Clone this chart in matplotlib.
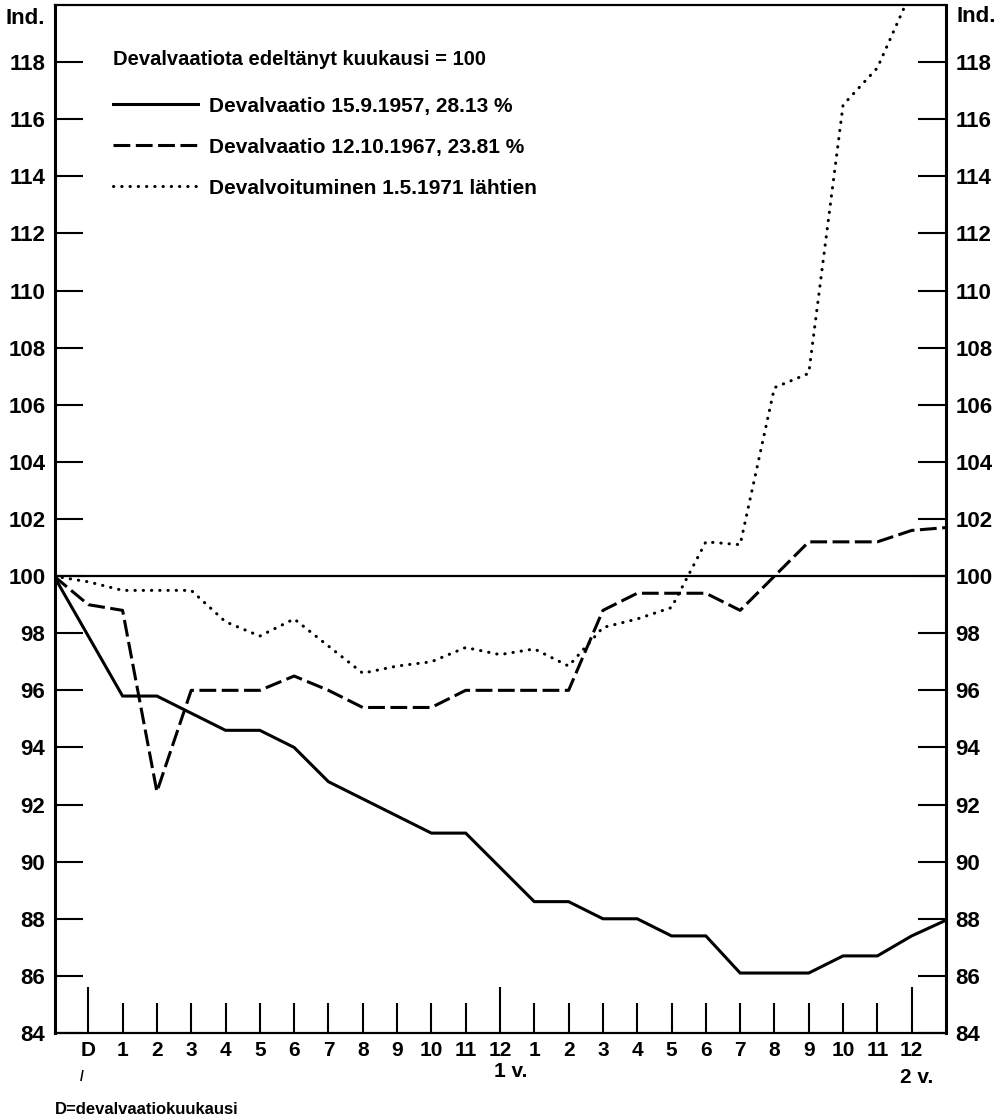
import numpy as np
import matplotlib
matplotlib.use("Agg")
import matplotlib.pyplot as plt

plt.rcParams['font.family'] = ['Liberation Sans', 'DejaVu Sans']
plt.rcParams['font.weight'] = 'bold'

# months: -1 = month before devaluation (=100), 0 = D, 1..12, 13..24 (second year)
months = np.arange(-1, 26)
dev_1957 = [100, 97.9, 95.8, 95.8, 95.2, 94.6, 94.6, 94.0, 92.8, 92.2, 91.6, 91.0,
            91.0, 89.8, 88.6, 88.6, 88.0, 88.0, 87.4, 87.4, 86.1, 86.1, 86.1, 86.7,
            86.7, 87.4, 87.95]
dev_1967 = [100, 99.0, 98.8, 92.45, 96.0, 96.0, 96.0, 96.5, 96.0, 95.4, 95.4, 95.4,
            96.0, 96.0, 96.0, 96.0, 98.8, 99.4, 99.4, 99.4, 98.8, 100.0, 101.2, 101.2,
            101.2, 101.6, 101.7]
dev_1971 = [100, 99.8, 99.5, 99.5, 99.5, 98.4, 97.9, 98.5, 97.55, 96.6, 96.85, 97.0,
            97.5, 97.25, 97.45, 96.85, 98.2, 98.5, 98.9, 101.2, 101.1, 106.6, 107.1,
            116.5, 117.8, 120.5]

labels = ["Devalvaatio 15.9.1957, 28.13 %",
          "Devalvaatio 12.10.1967, 23.81 %",
          "Devalvoituminen 1.5.1971 lähtien"]
legend_title = "Devalvaatiota edeltänyt kuukausi = 100"

month_ticks = np.arange(0, 25)
month_labels = ["D"] + [str(i) for i in range(1, 13)] + [str(i) for i in range(1, 13)]
y_ticks = np.arange(84, 119, 2)

W, H = 1004, 1119
fig = plt.figure(figsize=(W / 100, H / 100), dpi=100)
ax = fig.add_axes([55 / W, 86 / H, 891 / W, 1028 / H])

lw = 2.2
ax.plot(months, dev_1957, color='black', lw=lw, solid_joinstyle='miter', label=labels[0])
ax.plot(months, dev_1967, color='black', lw=lw, linestyle=(0, (5.5, 1.8)),
        dash_capstyle='butt', label=labels[1])
ax.plot(months[:len(dev_1971)], dev_1971, color='black', lw=lw,
        linestyle=(0, (0.1, 2.6)), dash_capstyle='round', label=labels[2])
ax.axhline(100, color='black', lw=1.6)

ax.set_xlim(-0.97, 25.0)
ax.set_ylim(84, 120)

for s in ax.spines.values():
    s.set_linewidth(1.6)
ax.spines['left'].set_linewidth(2.2)
ax.spines['right'].set_linewidth(2.2)

ax.set_yticks(y_ticks)
ax.set_yticklabels([str(v) for v in y_ticks])
ax.tick_params(axis='y', direction='in', length=20, width=1.5, left=True, right=True,
               labelleft=True, labelright=True, labelsize=16, pad=7)

ax.set_xticks(month_ticks)
ax.set_xticklabels(month_labels)
ax.tick_params(axis='x', direction='in', length=21.5, width=1.5, labelsize=15, pad=6)
for i in (0, 12, 24):
    ax.xaxis.get_major_ticks()[i].tick1line.set_markersize(33)

ax.text(12.3, -0.037, "1 v.", transform=ax.get_xaxis_transform(), ha='center',
        va='center', fontsize=15)
ax.text(24.15, -0.043, "2 v.", transform=ax.get_xaxis_transform(), ha='center',
        va='center', fontsize=15)

fig.text(45 / W, 1 - 18 / H, "Ind.", ha='right', va='center', fontsize=16)
fig.text(957 / W, 1 - 16 / H, "Ind.", ha='left', va='center', fontsize=16)
fig.text(55 / W, 1 - 1109 / H, "D=devalvaatiokuukausi", ha='left', va='center',
         fontsize=12)
fig.text(82 / W, 1 - 1077 / H, "/", ha='center', va='center', fontsize=10)

leg = ax.legend(title=legend_title, loc='upper left',
                bbox_to_anchor=(113 / W, 1 - 50 / H), bbox_transform=fig.transFigure,
                frameon=False, fontsize=15, title_fontsize=14.5, handlelength=4.1,
                handletextpad=0.5, labelspacing=1.05, borderpad=0, borderaxespad=0,
                alignment='left')
leg.get_title().set_fontweight('bold')
leg._legend_box.sep = 20

fig.savefig("out.png", dpi=100)
